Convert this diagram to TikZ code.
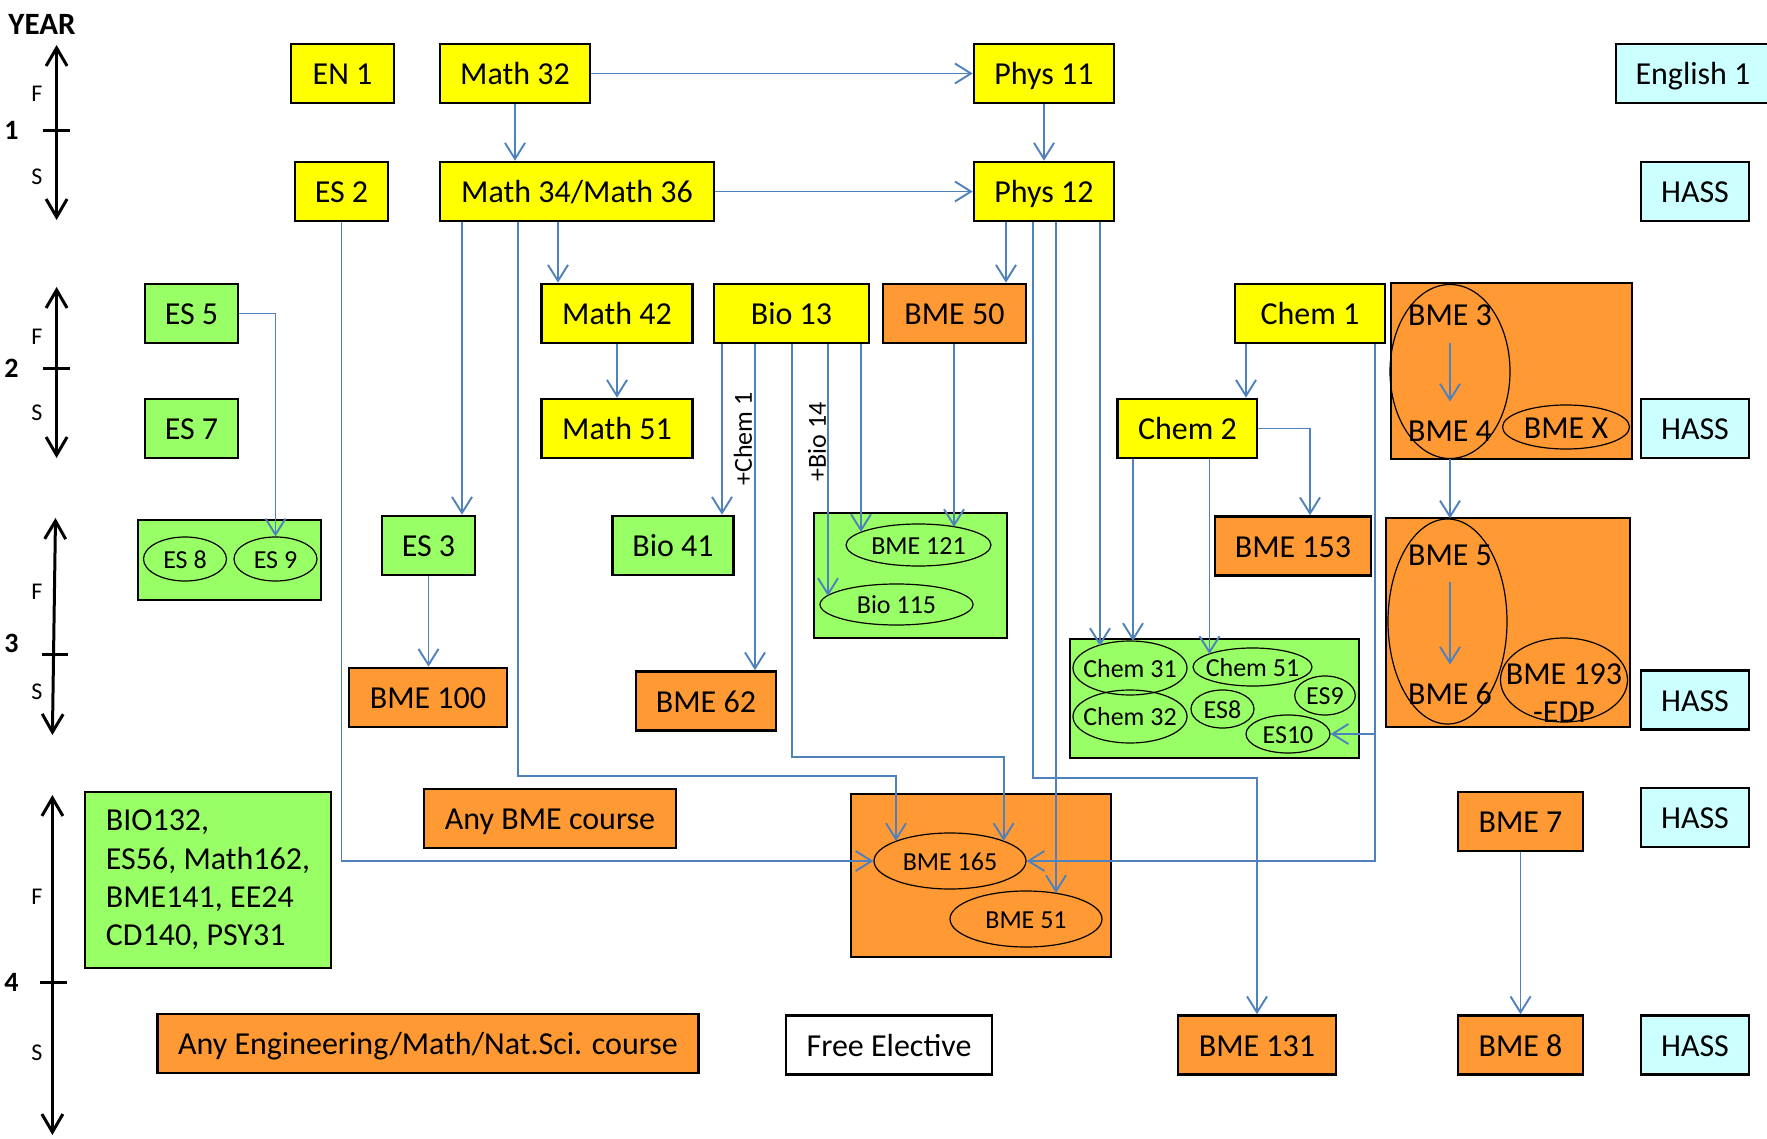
\documentclass[tikz,border=0pt]{standalone}
\usepackage{fontspec}
\setmainfont{Carlito}
\usetikzlibrary{arrows.meta,shapes.geometric}
\definecolor{cy}{HTML}{FFFF00}
\definecolor{cg}{HTML}{99FF66}
\definecolor{co}{HTML}{FF9933}
\definecolor{cc}{HTML}{CCFFFF}
\definecolor{cb}{HTML}{4F81BD}
\begin{document}
\begin{tikzpicture}[x=0.5pt,y=-0.5pt,
 boxbase/.style={draw=black, line width=1.3pt, rectangle, minimum height=29.5pt, inner sep=2pt},
 box/.style={boxbase, font=\fontsize{16}{19}\selectfont, text height=11pt, text depth=0pt},
 ybox/.style={box, fill=cy}, gbox/.style={box, fill=cg}, obox/.style={box, fill=co},
 cbox/.style={box, fill=cc}, wbox/.style={box, fill=white},
 ell/.style={draw=black, line width=0.6pt, ellipse, inner sep=0pt},
 etxt/.style={inner sep=0pt, font=\fontsize{13}{15}\selectfont, text height=9pt, text depth=0pt},
 txt/.style={inner sep=0pt, font=\fontsize{16}{19}\selectfont, text height=11pt, text depth=0pt},
 conn/.style={draw=cb, line width=0.95pt, -{Straight Barb[length=8pt,width=10pt]}},
 axis/.style={line width=1.5pt, {Straight Barb[length=9pt,width=10.5pt]}-{Straight Barb[length=9pt,width=10.5pt]}},
 tick/.style={line width=1.5pt},
 ylab/.style={inner sep=0pt, font=\bfseries\fontsize{14}{16}\selectfont},
 sem/.style={inner sep=0pt, font=\fontsize{12}{14}\selectfont},
 rot/.style={inner sep=0pt, rotate=90, font=\fontsize{13}{15}\selectfont}]
\useasboundingbox (0,0) rectangle (1767,1139);

% ---------- year axis ----------
\node[inner sep=0pt, font=\bfseries\fontsize{15.5}{18}\selectfont] (year) at (42,24) {YEAR};
\draw[axis] (56.6,45) -- (56.6,220);   \draw[tick] (43,130.7) -- (70,130.7);
\draw[axis] (56.6,287) -- (56.6,458);  \draw[tick] (43,368) -- (70,368);
\draw[axis] (55.5,518) -- (52.4,735);  \draw[tick] (42,654) -- (68,654);
\draw[axis] (52.4,795) -- (52.4,1135); \draw[tick] (40,982) -- (67,982);
\node[ylab] (y1) at (11.5,130) {1};
\node[ylab] (y2) at (11.5,368) {2};
\node[ylab] (y3) at (11.5,643) {3};
\node[ylab] (y4) at (11.5,982) {4};
\node[sem] (f1) at (37,94) {F};   \node[sem] (s1) at (37,177) {S};
\node[sem] (f2) at (37,337) {F};  \node[sem] (s2) at (37,413) {S};
\node[sem] (f3) at (37,592) {F};  \node[sem] (s3) at (37,692) {S};
\node[sem] (f4) at (37,897) {F};  \node[sem] (s4) at (37,1053) {S};

% ---------- year 1 ----------
\node[ybox, minimum width=51.5pt] (EN1) at (342.5,73.5) {EN 1};
\node[ybox, minimum width=75pt] (M32) at (515,73.5) {Math 32};
\node[ybox, minimum width=70pt] (P11) at (1044,73.5) {Phys 11};
\node[cbox, minimum width=77pt] (Eng1) at (1693,73.5) {English 1};
\node[ybox, minimum width=46.5pt] (ES2) at (341.5,191.5) {ES 2};
\node[ybox, minimum width=137pt] (M34) at (577,191.5) {Math 34/Math 36};
\node[ybox, minimum width=70pt] (P12) at (1044,191.5) {Phys 12};
\node[cbox, minimum width=54pt] (H1) at (1695,191.5) {HASS};

% ---------- year 2 ----------
\node[gbox, minimum width=46.5pt] (ES5) at (191.5,313.5) {ES 5};
\node[ybox, minimum width=75.25pt] (M42) at (617,313.5) {Math 42};
\node[ybox, minimum width=77.5pt] (B13) at (791.5,313.5) {Bio 13};
\node[obox, minimum width=71.5pt] (B50) at (954.5,313.5) {BME 50};
\node[ybox, minimum width=75pt] (C1) at (1310,313.5) {Chem 1};
\node[obox, minimum width=120.5pt, minimum height=88pt] (B34box) at (1511.5,371) {};
\node[gbox, minimum width=46.5pt] (ES7) at (191.5,428.5) {ES 7};
\node[ybox, minimum width=75.25pt] (M51) at (617,428.5) {Math 51};
\node[ybox, minimum width=69.65pt] (C2) at (1187.4,428.5) {Chem 2};
\node[cbox, minimum width=54pt] (H2) at (1695,428.5) {HASS};
\node[ell, minimum width=60pt, minimum height=87pt] (B34e) at (1450,371.5) {};
\node[txt, minimum height=28pt] (t3) at (1450,315) {BME 3};
\node[txt, minimum height=28pt] (t4) at (1450,430) {BME 4};
\node[ell, minimum width=63.5pt, minimum height=22pt] (BX) at (1566,427) {};
\node[txt] (BXt) at (BX) {BME X};

% ---------- year 3 ----------
\node[gbox, minimum width=91.5pt, minimum height=40pt] (ES89box) at (229.5,560) {};
\node[ell, minimum width=41.5pt, minimum height=22pt] (ES8a) at (185,559) {};
\node[etxt] (ES8at) at (ES8a) {ES 8};
\node[ell, minimum width=41.5pt, minimum height=22pt] (ES9a) at (275.5,559) {};
\node[etxt] (ES9at) at (ES9a) {ES 9};
\node[gbox, minimum width=46.5pt] (ES3) at (428.5,545.5) {ES 3};
\node[gbox, minimum width=60.75pt] (B41) at (673,545.5) {Bio 41};
\node[gbox, minimum width=96.5pt, minimum height=62.5pt] (B121box) at (910.5,575.5) {};
\node[ell, minimum width=72.5pt, minimum height=21pt] (B121) at (918.5,545) {};
\node[etxt] (B121t) at (B121) {BME 121};
\node[ell, minimum width=76.5pt, minimum height=20.5pt] (B115) at (896.5,604.5) {};
\node[etxt] (B115t) at (B115) {Bio 115};
\node[obox, minimum width=78pt] (B153) at (1293,546) {BME 153};
\node[obox, minimum width=122pt, minimum height=104.5pt] (B56box) at (1508,622.5) {};
\node[ell, minimum width=59.5pt, minimum height=102.5pt] (B56e) at (1447.5,621.5) {};
\node[txt, minimum height=28pt] (t5) at (1450,554) {BME 5};
\node[txt, minimum height=28pt] (t6) at (1450,693) {BME 6};
\node[ell, minimum width=63.5pt, minimum height=42pt] (B193e) at (1564,680) {};
\node[inner sep=0pt, align=center, font=\fontsize{16}{19}\selectfont] (t193) at (1564,693) {BME 193\\-EDP};
\node[obox, minimum width=79pt] (B100) at (428,697.5) {BME 100};
\node[obox, minimum width=70pt] (B62) at (706,701) {BME 62};
\node[gbox, minimum width=144.5pt, minimum height=59.5pt] (Cbox) at (1214.5,698.5) {};
\node[ell, minimum width=57pt, minimum height=27pt] (C31) at (1130,668) {};
\node[etxt] (C31t) at (C31) {Chem 31};
\node[ell, minimum width=57pt, minimum height=26.5pt] (C32) at (1130,716.5) {};
\node[etxt] (C32t) at (C32) {Chem 32};
\node[ell, minimum width=59.5pt, minimum height=19pt] (C51) at (1252.5,667) {};
\node[etxt] (C51t) at (C51) {Chem 51};
\node[ell, minimum width=30.25pt, minimum height=19.5pt] (ES9b) at (1325,695.5) {};
\node[etxt] (ES9bt) at (ES9b) {ES9};
\node[ell, minimum width=31.5pt, minimum height=19pt] (ES8b) at (1222.5,709) {};
\node[etxt] (ES8bt) at (ES8b) {ES8};
\node[ell, minimum width=42pt, minimum height=19pt] (ES10) at (1288,734) {};
\node[etxt] (ES10t) at (ES10) {ES10};
\node[cbox, minimum width=54pt] (H3) at (1695,700) {HASS};

% ---------- year 4 ----------
\node[boxbase, fill=cg, minimum width=123pt, minimum height=88pt, align=left, font=\fontsize{16}{19.2}\selectfont] (list) at (208,880) {BIO132,\\ES56, Math162,\\BME141, EE24\\CD140, PSY31};
\node[obox, minimum width=126pt] (anyBME) at (550,818.5) {Any BME course};
\node[obox, minimum width=130pt, minimum height=81.5pt] (B165box) at (981,875.5) {};
\node[ell, minimum width=76pt, minimum height=28pt] (B165) at (950,861) {};
\node[etxt] (B165t) at (B165) {BME 165};
\node[ell, minimum width=76pt, minimum height=28pt] (B51) at (1026,919) {};
\node[etxt] (B51t) at (B51) {BME 51};
\node[obox, minimum width=62.5pt] (B7) at (1520.5,821.5) {BME 7};
\node[cbox, minimum width=54pt] (H4) at (1695,817.5) {HASS};
\node[obox, minimum width=270.5pt] (anyEng) at (428,1043.5) {Any Engineering/Math/Nat.Sci. course};
\node[wbox, minimum width=103pt] (free) at (889,1045) {Free Elective};
\node[obox, minimum width=79pt] (B131) at (1257,1045) {BME 131};
\node[obox, minimum width=62.5pt] (B8) at (1520.5,1045) {BME 8};
\node[cbox, minimum width=54pt] (H5) at (1695,1045) {HASS};

% ---------- rotated labels ----------
\node[rot] (lc1) at (743,439) {+Chem 1};
\node[rot] (lb14) at (817,442) {+Bio 14};

% ---------- helper coordinates ----------
\coordinate (e165a) at (896,841);
\coordinate (e165b) at (1003.6,841);
\coordinate (e51) at (1056,893);
\coordinate (e121a) at (861,532);
\coordinate (e121b) at (954,527);
\coordinate (e115) at (828,596);
\coordinate (eC31a) at (1100,646);
\coordinate (eC31b) at (1133,641);
\coordinate (eC51) at (1209.5,654);
\coordinate (k1) at (518,776);
\coordinate (k2) at (791.6,757);
\coordinate (k3) at (1033,778);
\coordinate (k4) at (1006,0);
\coordinate (k5) at (722,0);
\coordinate (k6) at (755,0);
\coordinate (k7) at (1246,0);
\coordinate (k8) at (1375,861);
\coordinate (k9) at (1375,734);
\coordinate (k10) at (1310,428.5);
\coordinate (k11) at (558,0);
\coordinate (k12) at (462,0);

% ---------- connectors ----------
\draw[conn] (M32) -- (P11);
\draw[conn] (M32.south) -- (M32.south |- M34.north);
\draw[conn] (P11) -- (P12);
\draw[conn] (M34) -- (P12);
\draw[conn] (P12.south -| k4) -- (B50.north -| k4);
\draw[conn] (M34.south -| k11) -- (M42.north -| k11);
\draw[conn] (M42) -- (M51);
\draw[conn] (M34.south -| k12) -- (ES3.north -| k12);
\draw[conn] (ES3.south) -- (ES3.south |- B100.north);
\draw[conn] (M34.south -| k1) -- (k1) -| (e165a);
\draw[conn] (ES2.south) |- (B165.west);
\draw[conn] (ES5.east) -| (ES9a.north);
\draw[conn] (B13.south -| k5) -- (B41.north -| k5);
\draw[conn] (B13.south -| k6) -- (B62.north -| k6);
\draw[conn] (B13.south -| k2) -- (k2) -| (e165b);
\draw[conn] (B13.south -| e115) -- (e115);
\draw[conn] (B13.south -| e121a) -- (e121a);
\draw[conn] (B50.south -| e121b) -- (e121b);
\draw[conn] (P12.south -| k3) -- (k3) -| (B131.north);
\draw[conn] (P12.south -| e51) -- (e51);
\draw[conn] (P12.south -| eC31a) -- (eC31a);
\draw[conn] (C1.south -| k7) -- (C2.north -| k7);
\draw[conn] (C1.south -| k8) -- (k8) -- (B165.east);
\draw[conn] (k9) -- (ES10.east);
\draw[conn] (C2.east) -- (k10) -- (B153.north -| k10);
\draw[conn] (C2.south -| eC31b) -- (eC31b);
\draw[conn] (C2.south -| eC51) -- (eC51);
\draw[conn] (t3) -- (t4);
\draw[conn] (B34e.south) -- (B34e.south |- B56e.north);
\draw[conn] (t5) -- (t6);
\draw[conn] (B7) -- (B8);
\end{tikzpicture}
\end{document}
